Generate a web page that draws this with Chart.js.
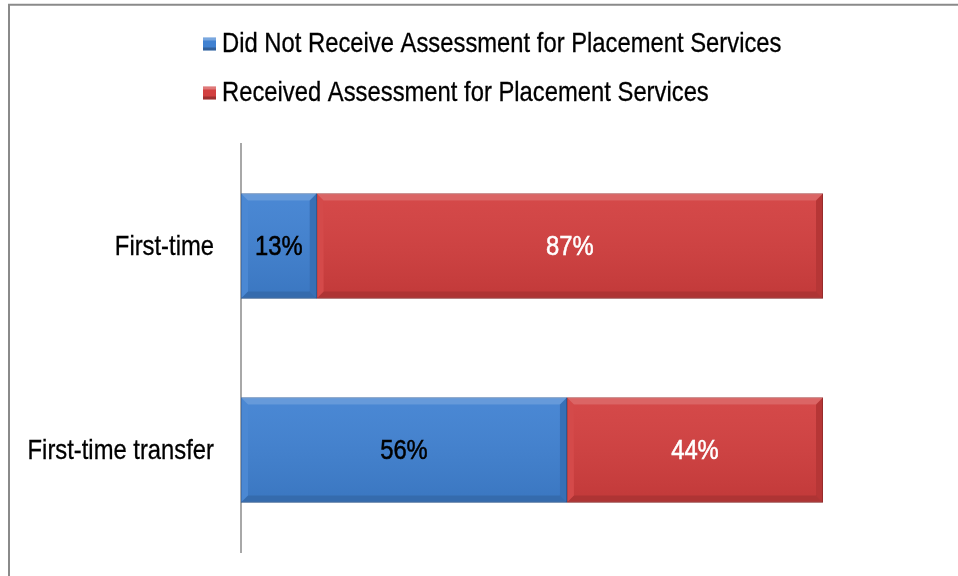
<!DOCTYPE html>
<html>
<head>
<meta charset="utf-8">
<script src="https://cdn.jsdelivr.net/npm/chart.js@4/dist/chart.umd.min.js"></script>
<style>
  html, body { margin: 0; padding: 0; background: #fff; }
  #wrap { width: 958px; height: 576px; }
</style>
</head>
<body>
<div id="wrap"><canvas id="c" width="958" height="576"></canvas></div>
<script>
const categories = ["First-time", "First-time transfer"];
const notReceived = [13, 56];
const received = [87, 44];
const seriesLabels = ["Did Not Receive Assessment for Placement Services", "Received Assessment for Placement Services"];
const valueLabels = [["13%", "56%"], ["87%", "44%"]];

const FONT = "'Liberation Sans', Arial, sans-serif";
const SX = 0.85; // horizontal condensing to mimic a narrow face
const BLUE = "#4081d1";
const RED = "#d23f3f";

function narrowText(ctx, text, x, y, align, weight) {
  ctx.save();
  ctx.translate(x, y);
  ctx.scale(SX, 1);
  ctx.textAlign = align;
  ctx.fillText(text, 0, 0);
  if (weight) {
    ctx.lineWidth = weight;
    ctx.strokeStyle = ctx.fillStyle;
    ctx.strokeText(text, 0, 0);
  }
  ctx.restore();
}

const framePlugin = {
  id: 'frame',
  beforeDraw(chart) {
    const ctx = chart.ctx;
    ctx.save();
    ctx.fillStyle = '#fff';
    ctx.fillRect(0, 0, chart.width, chart.height);
    ctx.strokeStyle = '#8a8a8a';
    ctx.lineWidth = 2;
    ctx.beginPath();
    ctx.moveTo(9, chart.height);
    ctx.lineTo(9, 4.75);
    ctx.lineTo(chart.width, 4.75);
    ctx.stroke();
    ctx.restore();
  }
};

const bevelPlugin = {
  id: 'bevel',
  afterDatasetsDraw(chart) {
    const ctx = chart.ctx;
    const b = 7;
    chart.data.datasets.forEach((ds, di) => {
      const meta = chart.getDatasetMeta(di);
      meta.data.forEach((el) => {
        const x0 = Math.min(el.base, el.x), x1 = Math.max(el.base, el.x);
        const y0 = el.y - el.height / 2, y1 = el.y + el.height / 2;
        ctx.save();
        ctx.fillStyle = 'rgba(255,255,255,0.2)';
        ctx.beginPath();
        ctx.moveTo(x0, y0); ctx.lineTo(x1, y0); ctx.lineTo(x1 - b, y0 + b); ctx.lineTo(x0 + b, y0 + b); ctx.closePath(); ctx.fill();
        ctx.fillStyle = 'rgba(255,255,255,0.06)';
        ctx.beginPath();
        ctx.moveTo(x0, y0); ctx.lineTo(x0 + b, y0 + b); ctx.lineTo(x0 + b, y1 - b); ctx.lineTo(x0, y1); ctx.closePath(); ctx.fill();
        ctx.fillStyle = 'rgba(0,0,0,0.13)';
        ctx.beginPath();
        ctx.moveTo(x1, y0); ctx.lineTo(x1, y1); ctx.lineTo(x1 - b, y1 - b); ctx.lineTo(x1 - b, y0 + b); ctx.closePath(); ctx.fill();
        ctx.fillStyle = 'rgba(0,0,0,0.17)';
        ctx.beginPath();
        ctx.moveTo(x0, y1); ctx.lineTo(x1, y1); ctx.lineTo(x1 - b, y1 - b); ctx.lineTo(x0 + b, y1 - b); ctx.closePath(); ctx.fill();
        const g = ctx.createLinearGradient(0, y0 + b, 0, y1 - b);
        g.addColorStop(0, 'rgba(255,255,255,0.05)');
        g.addColorStop(1, 'rgba(0,0,0,0.07)');
        ctx.fillStyle = g;
        ctx.fillRect(x0 + b, y0 + b, x1 - x0 - 2 * b, y1 - y0 - 2 * b);
        ctx.restore();
      });
    });
  }
};

const textPlugin = {
  id: 'texts',
  afterDraw(chart) {
    const ctx = chart.ctx;
    ctx.save();
    ctx.font = "28px " + FONT;
    ctx.textBaseline = 'middle';
    const ys = chart.scales.y;
    ctx.fillStyle = '#000';
    categories.forEach((c, i) => {
      narrowText(ctx, c, ys.right - 27, ys.getPixelForValue(i) + 1, 'right', 0.3);
    });
    chart.data.datasets.forEach((ds, di) => {
      const meta = chart.getDatasetMeta(di);
      meta.data.forEach((el, i) => {
        ctx.fillStyle = di === 0 ? '#000' : '#fff';
        narrowText(ctx, valueLabels[di][i], (el.base + el.x) / 2, el.y + 1, 'center', 0.55);
      });
    });
    const rows = [44, 93];
    chart.data.datasets.forEach((ds, di) => {
      const y = rows[di];
      ctx.fillStyle = ds.backgroundColor;
      ctx.fillRect(203, y - 6.5, 13, 13);
      ctx.fillStyle = 'rgba(255,255,255,0.3)';
      ctx.fillRect(203, y - 6.5, 13, 3);
      ctx.fillStyle = 'rgba(0,0,0,0.25)';
      ctx.fillRect(203, y + 3.5, 13, 3);
      ctx.fillStyle = '#000';
      narrowText(ctx, ds.label, 222, y, 'left', 0.3);
    });
    ctx.restore();
  }
};

new Chart(document.getElementById('c'), {
  type: 'bar',
  data: {
    labels: categories,
    datasets: [
      { label: seriesLabels[0], data: notReceived, backgroundColor: BLUE, borderColor: '#2d5f9e', borderWidth: 1, borderSkipped: false, barThickness: 105 },
      { label: seriesLabels[1], data: received, backgroundColor: RED, borderColor: '#9e2e2e', borderWidth: 1, borderSkipped: false, barThickness: 105 }
    ]
  },
  options: {
    indexAxis: 'y',
    responsive: false,
    animation: false,
    devicePixelRatio: 1,
    layout: { padding: { left: 10, top: 144, right: 135, bottom: 24 } },
    plugins: { legend: { display: false }, tooltip: { enabled: false } },
    scales: {
      x: { stacked: true, min: 0, max: 100, display: false },
      y: {
        stacked: true,
        grid: { display: false, drawTicks: false },
        border: { display: true, color: '#a8a8a8', width: 2 },
        ticks: { display: false },
        afterFit(scale) { scale.width = 231; }
      }
    }
  },
  plugins: [framePlugin, bevelPlugin, textPlugin]
});
</script>
</body>
</html>
